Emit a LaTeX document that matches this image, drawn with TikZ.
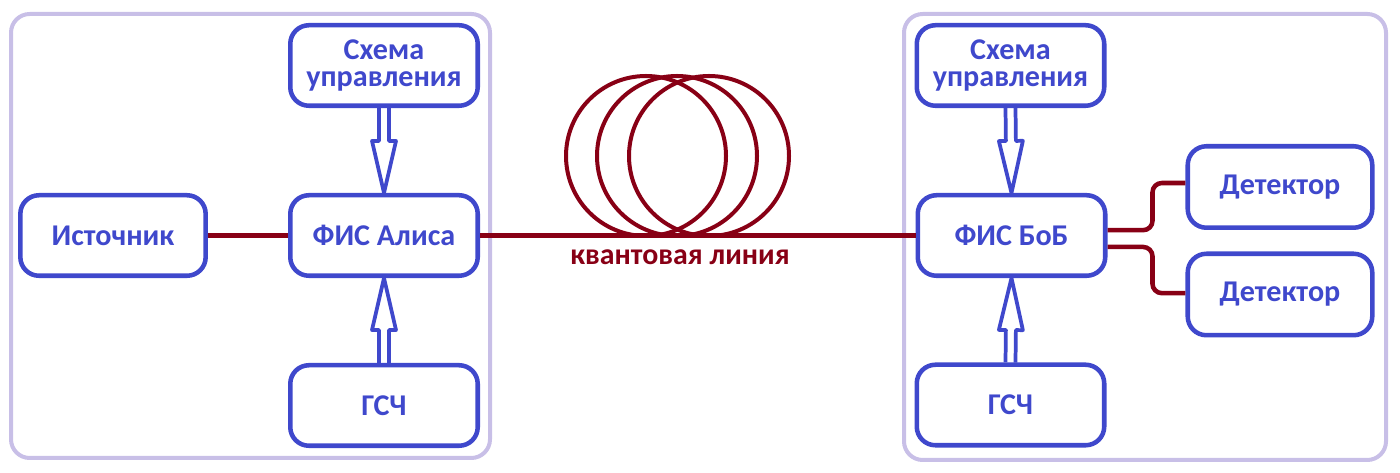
\documentclass[tikz,border=0pt]{standalone}
\usepackage{fontspec}
\setmainfont{Carlito}
\usetikzlibrary{calc}
\definecolor{indigo}{HTML}{3F48CC}
\definecolor{darkred}{HTML}{880015}
\definecolor{lavender}{HTML}{C8BFE7}
\begin{document}
\begin{tikzpicture}[x=0.75pt,y=-0.75pt,
  block/.style={draw=indigo,line width=3.4pt,rounded corners=14pt,text=indigo,
    font=\fontsize{22.6}{20.5}\selectfont\bfseries,align=center,
    minimum width=140.6pt,minimum height=60.4pt,inner sep=0pt},
  frame/.style={draw=lavender,line width=3pt,rounded corners=14pt},
  fiber/.style={draw=darkred,line width=3.4pt},
  hollow/.style={draw=indigo,line width=2.8pt,line join=round,
    to path={($(\tikztotarget)!39pt!(\tikztostart)$) coordinate (hb)
      ($(\tikztostart)!3.75pt!90:(\tikztotarget)$)
      -- ($(hb)!3.75pt!-90:(\tikztostart)$) -- ($(hb)!9pt!-90:(\tikztostart)$)
      -- (\tikztotarget)
      -- ($(hb)!9pt!90:(\tikztostart)$) -- ($(hb)!3.75pt!90:(\tikztostart)$)
      -- ($(\tikztostart)!3.75pt!-90:(\tikztotarget)$)}}]
\useasboundingbox (0,0) rectangle (1400,473);
% Alice and Bob
\draw[frame] (11,14) rectangle (490,458);
\draw[frame] (904,14) rectangle (1386,460);
\node[block] (ctrlA) at (384,65.5) {Схема\\управления};
\node[block] (fisA) at (384,235.5) {ФИС Алиса};
\node[block] (rngA) at (384,405.5) {ГСЧ};
\node[block,minimum width=139pt] (src) at (113,235.5) {Источник};
\node[block] (ctrlB) at (1010.5,65.5) {Схема\\управления};
\node[block] (fisB) at (1011.5,235.5) {ФИС БоБ};
\node[block] (rngB) at (1010.5,405) {ГСЧ};
\node[block,minimum width=138.4pt,minimum height=61.1pt] (detU) at (1280,187) {Детектор};
\node[block,minimum width=138.4pt,minimum height=61.1pt] (detD) at (1280,294.5) {Детектор};
\draw[hollow] (ctrlA.south) to (fisA.north);
\draw[hollow] (rngA.north) to (fisA.south);
\draw[hollow] (ctrlB.south) to (fisB.north);
\draw[hollow] (rngB.north) to (fisB.south);
% quantum line
\draw[fiber] (src.east) -- (fisA.west);
\draw[fiber] (fisA.east) -- (fisB.west);
\foreach \cx in {646,677,709}
  \draw[darkred,line width=3pt] (\cx,156) circle[radius=80];
\node[text=darkred,font=\fontsize{22.4}{24}\selectfont\bfseries] (qline) at (680,257) {квантовая линия};
\draw[fiber,rounded corners=7pt] ([yshift=4pt]fisB.east) -- ++(45,0) |- ([yshift=3pt]detU.west);
\draw[fiber,rounded corners=7pt] ([yshift=-8.6pt]fisB.east) -- ++(45,0) |- ([yshift=1pt]detD.west);
\end{tikzpicture}
\end{document}
